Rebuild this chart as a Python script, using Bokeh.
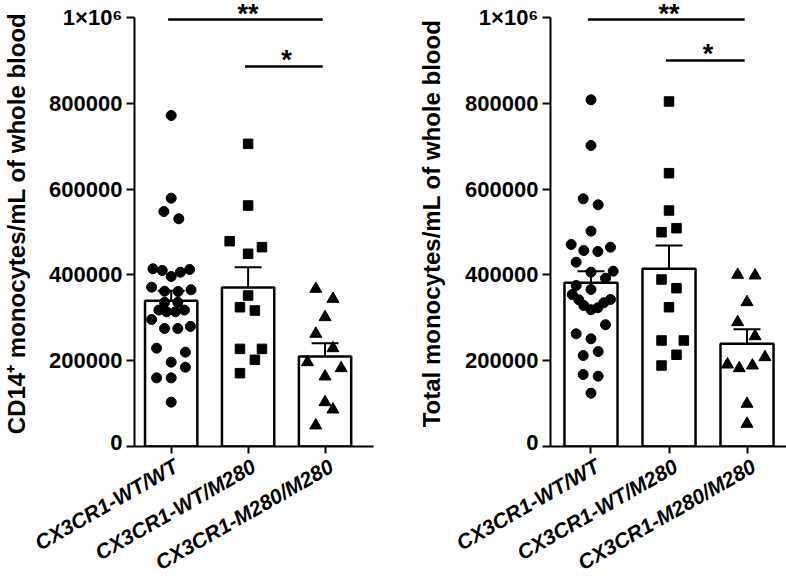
from bokeh.plotting import figure
from bokeh.models import (ColumnDataSource, FixedTicker, Whisker, TeeHead, Label,
                          Range1d, CustomJSTickFormatter)
from bokeh.layouts import row, column
from bokeh.core.properties import value
from bokeh.embed import file_html
from bokeh.resources import INLINE

# ---------------- data ----------------
categories = ["CX3CR1-WT/WT", "CX3CR1-WT/M280", "CX3CR1-M280/M280"]
markers = ["circle", "square", "triangle"]
y_ticks = [0, 200000, 400000, 600000, 800000, 1000000]

# Panel A: CD14+ monocytes/mL
cd14_wt_wt = [771600, 578800, 547800, 530800, 414200, 410300, 396300, 406300, 412600,
              371400, 362000, 361300, 365300, 336000, 336000, 318000, 314000, 314000,
              318000, 296000, 275000, 275000, 280000, 229200, 219900, 196500, 184800,
              160000, 160000, 103300]
cd14_wt_wt_jit = [0, 0, -0.095, 0.099, -0.237, -0.116, 0, 0.12, 0.24, -0.254, -0.086, 0.09,
                  0.258, -0.086, 0.086, -0.16, -0.06, 0.056, 0.172, -0.254, -0.086, 0.086,
                  0.25, -0.19, 0.185, 0, 0.185, -0.19, 0, 0]
cd14_wt_m280 = [705500, 561800, 478600, 464600, 449200, 352000, 317000, 324700, 227500,
                227500, 202100, 170900]
cd14_wt_m280_jit = [0, 0, -0.24, 0.18, 0, 0, 0.088, -0.106, -0.106, 0.18, 0.088, -0.106]
cd14_m280_m280 = [367500, 344200, 301400, 262700, 229100, 196500, 182500, 163200, 103300,
                  86200, 49000]
cd14_m280_m280_jit = [-0.12, 0.103, 0, -0.12, 0.103, -0.228, 0.21, 0, 0, 0.103, -0.12]
cd14_mean = [340000, 370600, 209800]
cd14_sem = [23300, 47500, 31000]

# Panel B: total monocytes/mL
tot_wt_wt = [808200, 701600, 577400, 563400, 501900, 470900, 456900, 454500, 464600,
             429600, 406300, 408600, 392300, 375300, 366000, 354300, 342700, 342000,
             328700, 335000, 318900, 323500, 283900, 262700, 251000, 221400, 212100,
             167800, 163900, 124200]
tot_wt_wt_jit = [0, 0, -0.1, 0.092, 0, -0.254, -0.092, 0.088, 0.25, -0.19, 0, 0.285,
                 0.186, -0.19, 0, -0.24, 0.25, -0.156, -0.092, 0.164, 0, 0.088, 0.186,
                 -0.19, 0, 0.092, -0.1, -0.1, 0.092, 0]
tot_wt_m280 = [804200, 637100, 550100, 499500, 508900, 389300, 369000, 324700, 247100,
               247100, 213800, 188800]
tot_wt_m280_jit = [0, 0, 0, -0.096, 0.096, -0.096, 0.096, 0, -0.096, 0.19, 0.096, -0.096]
tot_m280_m280 = [400200, 398600, 336400, 289800, 257100, 208200, 191100, 182500, 188800,
                 99500, 52900]
tot_m280_m280_jit = [-0.12, 0.103, 0, -0.12, 0.103, 0.23, -0.25, -0.1, 0.07, 0, 0]
tot_mean = [381500, 414200, 239300]
tot_sem = [27200, 54400, 34200]

# significance comparisons: (group i, group j, label)
sig_pairs = [(0, 2, "**"), (1, 2, "*")]
cd14_sig_y = [995300, 885800]
tot_sig_y = [995300, 899800]

FONT = "Liberation Sans"
TOP_H = 454       # main plot: frame 446 + 8 px for the x ticks
LAB_H = 124       # strip holding the rotated category labels
FRAME_H = 446
Y_END = 1039627   # value at the top of the frame (0 at bottom, 429 px per 1e6)


def make_panel(title_label, groups, jitters, means, sems, sig_y, width, border_left,
               border_right, x_start, x_end, label_standoff):
    p = figure(width=width, height=TOP_H, output_backend="svg", toolbar_location=None,
               x_range=Range1d(x_start, x_end), y_range=Range1d(0, Y_END),
               min_border_left=border_left, min_border_right=border_right,
               min_border_top=0, min_border_bottom=TOP_H - FRAME_H)
    p.outline_line_color = None
    p.grid.visible = False
    p.background_fill_color = "white"
    p.border_fill_color = "white"

    idx = list(range(len(categories)))
    p.vbar(x=idx, top=means, width=0.68, bottom=0, fill_color="white",
           line_color="black", line_width=2.5)

    for k, (vals, jit) in enumerate(zip(groups, jitters)):
        xs = [k + j for j in jit]
        size = {"circle": 10, "square": 9.5, "triangle": 12}[markers[k]]
        p.scatter(x=xs, y=vals, marker=markers[k], size=size, fill_color="black",
                  line_color="black")

    src = ColumnDataSource(dict(x=idx, upper=[m + s for m, s in zip(means, sems)],
                                lower=[m - s for m, s in zip(means, sems)]))
    w = Whisker(source=src, base="x", upper="upper", lower="lower",
                line_color="black", line_width=2,
                upper_head=TeeHead(size=27, line_width=2, line_color="black"),
                lower_head=TeeHead(size=27, line_width=2, line_color="black"))
    p.add_layout(w)

    for (i, j, lab), yv in zip(sig_pairs, sig_y):
        p.segment(x0=[i - 0.04], x1=[j - 0.03], y0=[yv], y1=[yv], line_color="black",
                  line_width=2.5)
        p.add_layout(Label(x=(i + j) / 2, y=yv, text=lab, text_align="center",
                           text_baseline="alphabetic", y_offset=6,
                           text_font=FONT, text_font_size="27px",
                           text_font_style="bold", text_color="black"))

    # y axis
    ya = p.yaxis[0]
    ya.ticker = FixedTicker(ticks=y_ticks)
    ya.formatter = CustomJSTickFormatter(
        code="return tick >= 1000000 ? '1\u00d710\u2076' : tick.toFixed(0);")
    ya.bounds = (0, 1000000)
    ya.axis_label = title_label
    ya.axis_label_text_font = FONT
    ya.axis_label_text_font_size = "24px"
    ya.axis_label_text_font_style = "bold"
    ya.axis_label_text_color = "black"
    ya.axis_label_standoff = label_standoff
    ya.major_label_text_font = FONT
    ya.major_label_text_font_size = "22px"
    ya.major_label_text_font_style = "bold"
    ya.major_label_text_color = "black"
    ya.major_label_standoff = 4
    ya.axis_line_width = 2
    ya.axis_line_color = "black"
    ya.major_tick_line_width = 2
    ya.major_tick_line_color = "black"
    ya.major_tick_out = 8
    ya.major_tick_in = 0
    ya.minor_tick_line_color = None

    # x axis: ticks only; category names are drawn in the strip below
    xa = p.xaxis[0]
    xa.ticker = FixedTicker(ticks=idx)
    xa.major_label_text_font_size = "0px"
    xa.major_label_text_color = None
    xa.major_label_standoff = 0
    xa.axis_line_width = 2
    xa.axis_line_color = "black"
    xa.major_tick_line_width = 2
    xa.major_tick_line_color = "black"
    xa.major_tick_out = 7
    xa.major_tick_in = 0
    xa.minor_tick_line_color = None

    # label strip: frame covers its whole width, same x mapping as the plot above
    frame_w = width - border_left - border_right
    upp = (x_end - x_start) / frame_w
    lx0 = x_start - border_left * upp
    lx1 = x_end + border_right * upp
    q = figure(width=width, height=LAB_H, output_backend="svg", toolbar_location=None,
               x_range=Range1d(lx0, lx1), y_range=Range1d(0, 1),
               x_axis_location=None, y_axis_location=None,
               min_border_left=0, min_border_right=0, min_border_top=0,
               min_border_bottom=0)
    q.outline_line_color = None
    q.grid.visible = False
    q.background_fill_color = "white"
    q.border_fill_color = "white"
    q.text(x=idx, y=[1] * len(idx), text=categories, angle=0.52, text_align="right",
           text_baseline="top", x_offset=1, y_offset=0, text_font=value(FONT),
           text_font_size="21px", text_font_style="bold italic", text_color="black")
    return p, q


p1, q1 = make_panel("CD14\u207a monocytes/mL of whole blood",
                    [cd14_wt_wt, cd14_wt_m280, cd14_m280_m280],
                    [cd14_wt_wt_jit, cd14_wt_m280_jit, cd14_m280_m280_jit],
                    cd14_mean, cd14_sem, cd14_sig_y, 400, 132, 27, -0.477, 2.63, 16)
p2, q2 = make_panel("Total monocytes/mL of whole blood",
                    [tot_wt_wt, tot_wt_m280, tot_m280_m280],
                    [tot_wt_wt_jit, tot_wt_m280_jit, tot_m280_m280_jit],
                    tot_mean, tot_sem, tot_sig_y, 386, 150, 0, -0.519, 2.506, 17)

layout = column(row(p1, p2, spacing=0), row(q1, q2, spacing=0), spacing=0)
open("out.html", "w").write(file_html(layout, INLINE))
